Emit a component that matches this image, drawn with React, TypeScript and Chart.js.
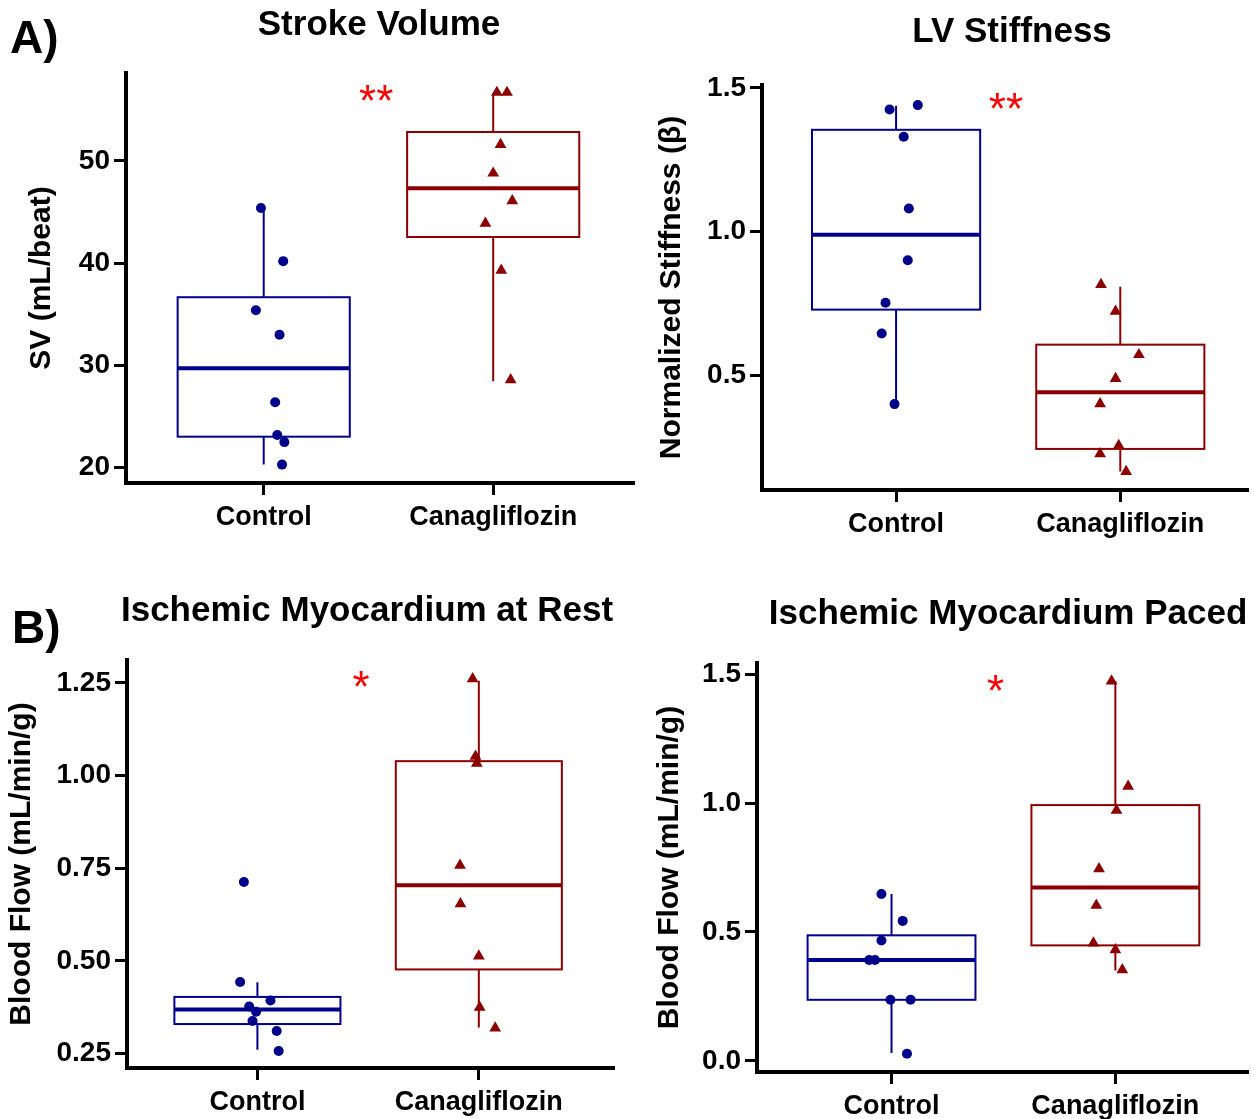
import React, { useEffect, useRef } from "react";
import { Chart, registerables } from "chart.js";

Chart.register(...registerables);

// ---------- data ----------
const groups = ["Control", "Canagliflozin"];

// Panel A: Stroke Volume (mL/beat)
const svControl = [45.4, 40.2, 35.4, 33.0, 26.4, 23.2, 22.5, 20.3];
const svControlJitter = [-0.012, 0.085, -0.034, 0.069, 0.05, 0.059, 0.09, 0.08];
const svCana = [56.7, 56.7, 51.6, 48.8, 46.1, 43.9, 39.3, 28.6];
const svCanaJitter = [0.016, 0.06, 0.032, 0.0, 0.083, -0.034, 0.035, 0.076];
// [whisker low, Q1, median, Q3, whisker high]
const svControlBox = [20.3, 23.03, 29.73, 36.67, 45.4];
const svCanaBox = [28.45, 42.56, 47.34, 52.83, 56.6];
const svTicks = [20, 30, 40, 50];

// Panel B: LV Stiffness (normalized beta)
const lvControl = [1.425, 1.44, 1.33, 1.08, 0.9, 0.752, 0.645, 0.399];
const lvControlJitter = [-0.029, 0.097, 0.034, 0.057, 0.052, -0.047, -0.064, -0.007];
const lvCana = [0.815, 0.722, 0.571, 0.488, 0.4, 0.255, 0.226, 0.164];
const lvCanaJitter = [-0.086, -0.021, 0.083, -0.021, -0.09, -0.007, -0.09, 0.026];
const lvControlBox = [0.4, 0.728, 0.989, 1.354, 1.438];
const lvCanaBox = [0.164, 0.243, 0.44, 0.606, 0.808];
const lvTicks = [0.5, 1.0, 1.5];

// Panel C: Ischemic myocardium at rest (mL/min/g)
const restControl = [0.713, 0.443, 0.393, 0.377, 0.363, 0.338, 0.311, 0.257];
const restControlJitter = [-0.061, -0.078, 0.059, -0.037, -0.006, -0.022, 0.087, 0.096];
const restCana = [1.261, 1.052, 1.033, 0.758, 0.654, 0.513, 0.375, 0.319];
const restCanaJitter = [-0.028, -0.015, -0.009, -0.085, -0.083, 0.0, 0.004, 0.074];
const restControlBox = [0.26, 0.3296, 0.369, 0.4028, 0.4426];
const restCanaBox = [0.32, 0.477, 0.704, 1.039, 1.256];
const restTicks = [0.25, 0.5, 0.75, 1.0, 1.25];

// Panel D: Ischemic myocardium paced (mL/min/g)
const pacedControl = [0.647, 0.543, 0.467, 0.391, 0.391, 0.237, 0.237, 0.028];
const pacedControlJitter = [-0.045, 0.05, -0.045, -0.1, -0.074, -0.005, 0.085, 0.069];
const pacedCana = [1.473, 1.065, 0.972, 0.745, 0.603, 0.457, 0.431, 0.353];
const pacedCanaJitter = [-0.017, 0.057, 0.005, -0.073, -0.085, -0.098, 0.0, 0.031];
const pacedControlBox = [0.031, 0.237, 0.391, 0.487, 0.647];
const pacedCanaBox = [0.351, 0.448, 0.672, 0.992, 1.473];
const pacedTicks = [0.0, 0.5, 1.0, 1.5];

// ---------- styles ----------
const FONT = "'Liberation Sans', Arial, Helvetica, sans-serif";
const BLUE = "#00008B";
const RED = "#8B0000";
const SIG = "#FF0000";
const BOX_HALF = 0.375;

type PanelCfg = {
  left: number; top: number; w: number; h: number;
  area: { left: number; top: number; right: number; bottom: number };
  xMin: number; xMax: number; yMin: number; yMax: number;
  yTicks: number[]; decimals: number;
  yTitle: string; yTitleX: number;
  title: string; titleX: number; titleY: number;
  letter?: string; letterX?: number; letterY?: number;
  sig: string; sigX: number; sigY: number;
  control: number[]; controlJitter: number[]; controlBox: number[];
  cana: number[]; canaJitter: number[]; canaBox: number[];
};

const panels: PanelCfg[] = [
  {
    left: 0, top: 0, w: 640, h: 560,
    area: { left: 126, top: 73, right: 634, bottom: 483 },
    xMin: 0.4, xMax: 2.61, yMin: 18.5, yMax: 58.6,
    yTicks: svTicks, decimals: 0,
    yTitle: "SV (mL/beat)", yTitleX: 42,
    title: "Stroke Volume", titleX: 379, titleY: 25,
    letter: "A)", letterX: 10, letterY: 40,
    sig: "**", sigX: 1.49, sigY: 56.8,
    control: svControl, controlJitter: svControlJitter, controlBox: svControlBox,
    cana: svCana, canaJitter: svCanaJitter, canaBox: svCanaBox,
  },
  {
    left: 640, top: 0, w: 614, h: 560,
    area: { left: 122, top: 85, right: 614, bottom: 490 },
    xMin: 0.402, xMax: 2.566, yMin: 0.1, yMax: 1.51,
    yTicks: lvTicks, decimals: 1,
    yTitle: "Normalized Stiffness (\u03B2)", yTitleX: 32,
    title: "LV Stiffness", titleX: 372, titleY: 32,
    sig: "**", sigX: 1.49, sigY: 1.46,
    control: lvControl, controlJitter: lvControlJitter, controlBox: lvControlBox,
    cana: lvCana, canaJitter: lvCanaJitter, canaBox: lvCanaBox,
  },
  {
    left: 0, top: 560, w: 640, h: 559,
    area: { left: 127, top: 100, right: 613, bottom: 508 },
    xMin: 0.411, xMax: 2.606, yMin: 0.211, yMax: 1.312,
    yTicks: restTicks, decimals: 2,
    yTitle: "Blood Flow (mL/min/g)", yTitleX: 22,
    title: "Ischemic Myocardium at Rest", titleX: 367, titleY: 51,
    letter: "B)", letterX: 12, letterY: 70,
    sig: "*", sigX: 1.468, sigY: 1.265,
    control: restControl, controlJitter: restControlJitter, controlBox: restControlBox,
    cana: restCana, canaJitter: restCanaJitter, canaBox: restCanaBox,
  },
  {
    left: 640, top: 560, w: 614, h: 559,
    area: { left: 117, top: 103, right: 614, bottom: 512 },
    xMin: 0.399, xMax: 2.589, yMin: -0.043, yMax: 1.543,
    yTicks: pacedTicks, decimals: 1,
    yTitle: "Blood Flow (mL/min/g)", yTitleX: 30,
    title: "Ischemic Myocardium Paced", titleX: 368, titleY: 54,
    sig: "*", sigX: 1.465, sigY: 1.475,
    control: pacedControl, controlJitter: pacedControlJitter, controlBox: pacedControlBox,
    cana: pacedCana, canaJitter: pacedCanaJitter, canaBox: pacedCanaBox,
  },
];

function Panel({ cfg }: { cfg: PanelCfg }) {
  const ref = useRef<HTMLCanvasElement | null>(null);

  useEffect(() => {
    const canvas = ref.current;
    if (!canvas) return;

    const boxPlugin = {
      id: "boxes",
      beforeDatasetsDraw(chart: any) {
        const { ctx, scales } = chart;
        const x = scales.x;
        const y = scales.y;
        const items: [number, number[], string][] = [
          [1, cfg.controlBox, BLUE],
          [2, cfg.canaBox, RED],
        ];
        ctx.save();
        for (const [pos, b, color] of items) {
          const xc = x.getPixelForValue(pos);
          const xl = x.getPixelForValue(pos - BOX_HALF);
          const xr = x.getPixelForValue(pos + BOX_HALF);
          const [lo, q1, med, q3, hi] = b.map((v) => y.getPixelForValue(v));
          ctx.strokeStyle = color;
          ctx.lineWidth = 2;
          ctx.beginPath();
          ctx.moveTo(xc, q3);
          ctx.lineTo(xc, hi);
          ctx.moveTo(xc, q1);
          ctx.lineTo(xc, lo);
          ctx.stroke();
          ctx.strokeRect(xl, q3, xr - xl, q1 - q3);
          ctx.lineWidth = 4;
          ctx.beginPath();
          ctx.moveTo(xl, med);
          ctx.lineTo(xr, med);
          ctx.stroke();
        }
        ctx.restore();
      },
    };

    const textPlugin = {
      id: "panelText",
      afterDraw(chart: any) {
        const { ctx, scales } = chart;
        ctx.save();
        ctx.fillStyle = "#000";
        ctx.textAlign = "center";
        ctx.textBaseline = "middle";
        ctx.font = `bold 35px ${FONT}`;
        ctx.fillText(cfg.title, cfg.titleX, cfg.titleY);
        if (cfg.letter) {
          ctx.textAlign = "left";
          ctx.font = `bold 46px ${FONT}`;
          ctx.fillText(cfg.letter, cfg.letterX, cfg.letterY);
        }
        ctx.fillStyle = SIG;
        ctx.textAlign = "center";
        ctx.textBaseline = "alphabetic";
        ctx.font = `44px ${FONT}`;
        ctx.fillText(
          cfg.sig,
          scales.x.getPixelForValue(cfg.sigX),
          scales.y.getPixelForValue(cfg.sigY) + 25
        );
        ctx.restore();
      },
    };

    const tickFont = { family: FONT, size: 28, weight: "bold" as const, lineHeight: 1 };

    const chart = new Chart(canvas, {
      type: "scatter",
      data: {
        datasets: [
          {
            data: cfg.control.map((v, i) => ({ x: 1 + cfg.controlJitter[i], y: v })),
            pointStyle: "circle",
            pointRadius: 5,
            backgroundColor: BLUE,
            borderColor: BLUE,
            borderWidth: 0,
          },
          {
            data: cfg.cana.map((v, i) => ({ x: 2 + cfg.canaJitter[i], y: v })),
            pointStyle: "triangle",
            pointRadius: 6.8,
            backgroundColor: RED,
            borderColor: RED,
            borderWidth: 0,
          },
        ],
      },
      options: {
        animation: false,
        responsive: false,
        maintainAspectRatio: false,
        events: [],
        layout: {
          padding: { left: 0, top: cfg.area.top, right: cfg.w - cfg.area.right, bottom: 0 },
        },
        plugins: {
          legend: { display: false },
          tooltip: { enabled: false },
          title: { display: false },
        },
        scales: {
          x: {
            type: "linear",
            position: "bottom",
            min: cfg.xMin,
            max: cfg.xMax,
            afterBuildTicks: (s: any) => {
              s.ticks = [{ value: 1 }, { value: 2 }];
            },
            afterFit: (s: any) => {
              s.height = cfg.h - cfg.area.bottom;
            },
            ticks: {
              callback: (v: any) => (v === 1 ? groups[0] : v === 2 ? groups[1] : ""),
              font: { ...tickFont, size: 27 },
              color: "#000",
              padding: 9,
              maxRotation: 0,
              autoSkip: false,
            },
            grid: { drawOnChartArea: false, drawTicks: true, tickLength: 12, lineWidth: 3, color: "#000" },
            border: { display: true, width: 4, color: "#000" },
          },
          y: {
            type: "linear",
            position: "left",
            min: cfg.yMin,
            max: cfg.yMax,
            afterBuildTicks: (s: any) => {
              s.ticks = cfg.yTicks.map((v) => ({ value: v }));
            },
            afterFit: (s: any) => {
              s.width = cfg.area.left;
            },
            ticks: {
              callback: (v: any) => Number(v).toFixed(cfg.decimals),
              font: tickFont,
              color: "#000",
              padding: 4,
              autoSkip: false,
            },
            grid: { drawOnChartArea: false, drawTicks: true, tickLength: 12, lineWidth: 3, color: "#000" },
            border: { display: true, width: 4, color: "#000" },
            title: {
              display: true,
              text: cfg.yTitle,
              color: "#000",
              font: { family: FONT, size: 30, weight: "bold", lineHeight: 1 },
              padding: { top: cfg.yTitleX - 15, bottom: 0 },
            },
          },
        },
      } as any,
      plugins: [boxPlugin, textPlugin],
    });

    return () => chart.destroy();
  }, [cfg]);

  return (
    <canvas
      ref={ref}
      width={cfg.w}
      height={cfg.h}
      style={{ position: "absolute", left: cfg.left, top: cfg.top, width: cfg.w, height: cfg.h }}
    />
  );
}

export default function App() {
  return (
    <div style={{ position: "absolute", left: 0, top: 0, width: 1254, height: 1119, background: "#fff", overflow: "hidden" }}>
      {panels.map((p, i) => (
        <Panel key={i} cfg={p} />
      ))}
    </div>
  );
}
